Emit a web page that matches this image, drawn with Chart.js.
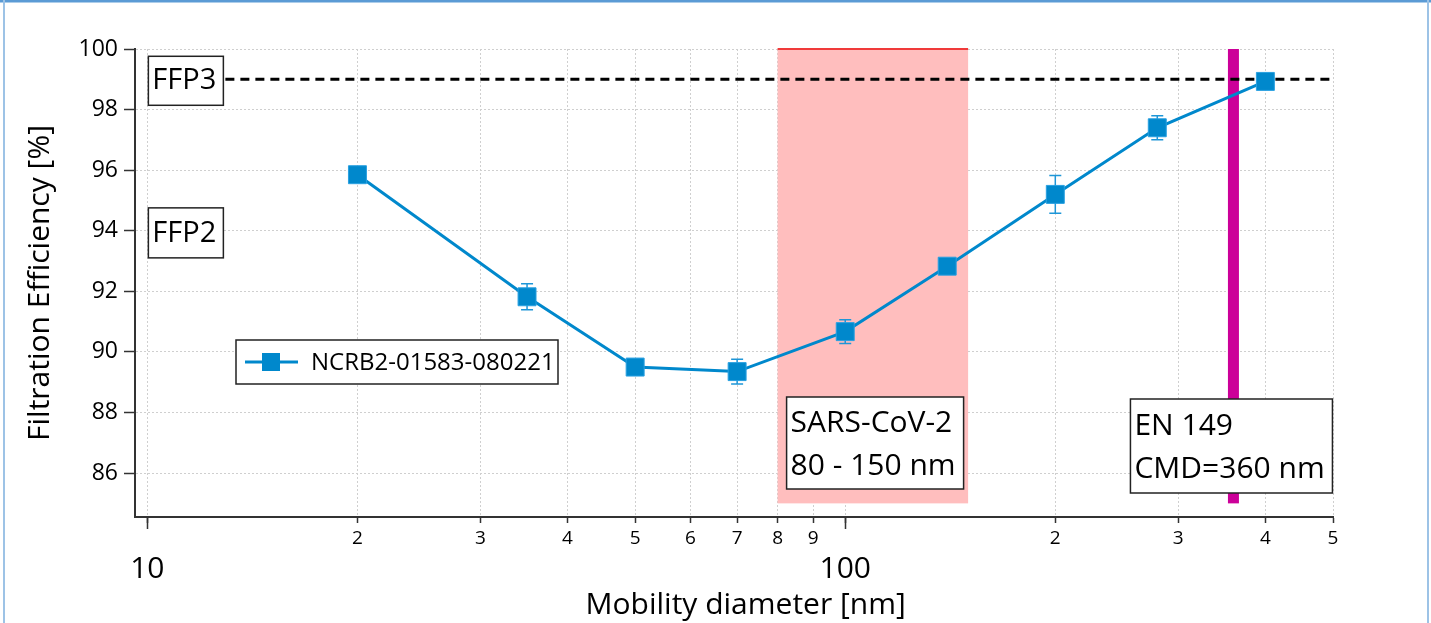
<!DOCTYPE html>
<html>
<head>
<meta charset="utf-8">
<script src="https://cdn.jsdelivr.net/npm/chart.js@4/dist/chart.umd.min.js"></script>
<style>
html, body { margin: 0; padding: 0; background: #fff; }
#wrap { width: 1431px; height: 623px; }
</style>
</head>
<body>
<div id="wrap"><canvas id="filterChart" width="1431" height="623"></canvas></div>
<script>
// measured filtration efficiency vs mobility diameter
const seriesName = "NCRB2-01583-080221";
const diameters = [20, 35, 50, 70, 100, 140, 200, 280, 400];
const efficiency = [95.85, 91.82, 89.5, 89.35, 90.67, 92.83, 95.2, 97.4, 98.93];
const errors = [0.08, 0.43, 0.15, 0.41, 0.39, 0.08, 0.62, 0.4, 0.05];

const xTicks = [10, 20, 30, 40, 50, 60, 70, 80, 90, 100, 200, 300, 400, 500];
const yTicks = [86, 88, 90, 92, 94, 96, 98, 100];

const sarsRange = [80, 150];
const cmdValue = 360;
const ffp3Level = 99;

const FONT = "'Open Sans', 'Noto Sans', sans-serif";
const blue = "rgb(0,136,204)";

const isMajor = (v) => v === 10 || v === 100;

function drawBox(ctx, left, top, w, h, lines, size, firstY, gap) {
    ctx.fillStyle = "#fff";
    ctx.fillRect(left, top, w, h);
    ctx.strokeStyle = "#222";
    ctx.lineWidth = 1.5;
    ctx.strokeRect(left, top, w, h);
    ctx.fillStyle = "#000";
    ctx.font = `${size}px ${FONT}`;
    ctx.textAlign = "left";
    ctx.textBaseline = "middle";
    lines.forEach((t, i) => ctx.fillText(t, left + 4, firstY + i * gap));
}

const overlay = {
    id: "overlay",
    beforeDatasetsDraw(chart) {
        const { ctx, scales: { x, y } } = chart;
        const yTop = y.getPixelForValue(100);
        const yBot = y.getPixelForValue(85);
        ctx.save();

        // SARS-CoV-2 band
        const x1 = x.getPixelForValue(sarsRange[0]);
        const x2 = x.getPixelForValue(sarsRange[1]);
        ctx.fillStyle = "#ffbebe";
        ctx.fillRect(x1, yTop, x2 - x1, yBot - yTop);
        ctx.strokeStyle = "#f03a3a";
        ctx.lineWidth = 2;
        ctx.beginPath();
        ctx.moveTo(x1, yTop);
        ctx.lineTo(x2, yTop);
        ctx.stroke();

        // EN 149 CMD line
        const xc = x.getPixelForValue(cmdValue);
        ctx.fillStyle = "#cc0099";
        ctx.fillRect(xc - 5.5, yTop, 11, yBot - yTop);

        // FFP3 level
        const yf = y.getPixelForValue(ffp3Level);
        ctx.strokeStyle = "#000";
        ctx.lineWidth = 3;
        ctx.setLineDash([9, 6]);
        ctx.beginPath();
        ctx.moveTo(x.getPixelForValue(10) + 78, yf);
        ctx.lineTo(chart.chartArea.right, yf);
        ctx.stroke();
        ctx.setLineDash([]);

        // error bars
        ctx.strokeStyle = "rgb(30,150,215)";
        ctx.lineWidth = 1.5;
        diameters.forEach((d, i) => {
            const px = x.getPixelForValue(d);
            const hi = y.getPixelForValue(efficiency[i] + errors[i]);
            const lo = y.getPixelForValue(efficiency[i] - errors[i]);
            ctx.beginPath();
            ctx.moveTo(px, hi); ctx.lineTo(px, lo);
            ctx.moveTo(px - 6, hi); ctx.lineTo(px + 6, hi);
            ctx.moveTo(px - 6, lo); ctx.lineTo(px + 6, lo);
            ctx.stroke();
        });
        ctx.restore();
    },
    afterDatasetsDraw(chart) {
        const { ctx, scales: { x, y } } = chart;
        ctx.save();
        const x10 = x.getPixelForValue(10);

        drawBox(ctx, x10 + 1, y.getPixelForValue(99) - 23, 75, 49, ["FFP3"], 29, y.getPixelForValue(99) + 1, 0);
        drawBox(ctx, x10 + 1, y.getPixelForValue(93.93) - 25, 75, 50, ["FFP2"], 29, y.getPixelForValue(93.93) + 1, 0);

        drawBox(ctx, x.getPixelForValue(sarsRange[0]) + 9, 397, 177, 92,
            ["SARS-CoV-2", "80 - 150 nm"], 30, 423, 43);
        drawBox(ctx, x.getPixelForValue(cmdValue) - 103, 399, 202, 94,
            ["EN 149", "CMD=360 nm"], 30, 426, 43);

        // legend
        const lx = 236, ly = 340;
        ctx.fillStyle = "#fff";
        ctx.fillRect(lx, ly, 322, 44);
        ctx.strokeStyle = "#222";
        ctx.lineWidth = 1.5;
        ctx.strokeRect(lx, ly, 322, 44);
        ctx.strokeStyle = blue;
        ctx.lineWidth = 3;
        ctx.beginPath();
        ctx.moveTo(lx + 9, ly + 22);
        ctx.lineTo(lx + 62, ly + 22);
        ctx.stroke();
        ctx.fillStyle = blue;
        ctx.fillRect(lx + 26, ly + 13, 18, 18);
        ctx.fillStyle = "#000";
        ctx.font = `24px ${FONT}`;
        ctx.textAlign = "left";
        ctx.textBaseline = "middle";
        ctx.fillText(seriesName, lx + 75, ly + 23);

        ctx.restore();
    },
    afterDraw(chart) {
        const { ctx, scales: { x } } = chart;
        ctx.save();
        // longer tick marks at the decades
        ctx.strokeStyle = "#333";
        ctx.lineWidth = 1.5;
        ctx.beginPath();
        xTicks.filter(isMajor).forEach((v) => {
            const px = Math.round(x.getPixelForValue(v)) + 0.5;
            ctx.moveTo(px, chart.chartArea.bottom);
            ctx.lineTo(px, chart.chartArea.bottom + 12);
        });
        ctx.stroke();

        ctx.strokeStyle = "#5b9bd5";
        ctx.lineWidth = 3;
        ctx.beginPath(); ctx.moveTo(0, 1); ctx.lineTo(1431, 1); ctx.stroke();
        ctx.strokeStyle = "#9dc3e6";
        ctx.lineWidth = 2;
        ctx.beginPath();
        ctx.moveTo(4, 0); ctx.lineTo(4, 623);
        ctx.moveTo(1428, 0); ctx.lineTo(1428, 623);
        ctx.stroke();
        ctx.restore();
    },
};

const ctx = document.getElementById("filterChart").getContext("2d");
const filterChart = new Chart(ctx, {
    type: "line",
    data: {
        datasets: [
            {
                label: seriesName,
                data: diameters.map((d, i) => ({ x: d, y: efficiency[i] })),
                borderColor: blue,
                backgroundColor: blue,
                borderWidth: 3,
                pointStyle: "rect",
                pointRadius: 12.7,
                pointBorderWidth: 1,
                pointBorderColor: "rgb(40,160,225)",
                pointBackgroundColor: blue,
                tension: 0,
            },
        ],
    },
    options: {
        responsive: false,
        animation: false,
        events: [],
        layout: { padding: { left: 0, right: 98, top: 49, bottom: 0 } },
        plugins: {
            legend: { display: false },
            tooltip: { enabled: false },
        },
        scales: {
            x: {
                type: "logarithmic",
                min: 9.6,
                max: 500,
                afterBuildTicks: (axis) => {
                    axis.ticks = xTicks.map((v) => ({ value: v, major: isMajor(v) }));
                },
                afterFit: (axis) => {
                    axis.height = 106;
                },
                ticks: {
                    autoSkip: false,
                    maxRotation: 0,
                    padding: 5,
                    color: "#000",
                    font: (c) =>
                        c.tick && isMajor(c.tick.value)
                            ? { family: FONT, size: 30, lineHeight: 0.92 }
                            : { family: FONT, size: 19, lineHeight: 1.1 },
                    callback: (v) => {
                        if (isMajor(v)) return ["", String(v)];
                        return String(v).charAt(0);
                    },
                },
                grid: {
                    color: "#cfcfcf",
                    lineWidth: 1,
                    tickLength: 6,
                    tickColor: "#333",
                    tickWidth: 1.5,
                    tickBorderDash: [],
                },
                border: { color: "#333", width: 2, dash: [2, 2] },
                title: {
                    display: true,
                    text: "\u00a0\u00a0\u00a0Mobility diameter [nm]",
                    color: "#000",
                    font: { family: FONT, size: 30 },
                    padding: { top: 0, bottom: 0 },
                },
            },
            y: {
                min: 84.55,
                max: 100,
                afterBuildTicks: (axis) => {
                    axis.ticks = yTicks.map((v) => ({ value: v }));
                },
                afterFit: (axis) => {
                    axis.width = 135;
                },
                ticks: {
                    padding: 6,
                    color: "#000",
                    font: { family: FONT, size: 23 },
                },
                grid: {
                    color: "#cfcfcf",
                    lineWidth: 1,
                    tickLength: 11,
                    tickColor: "#333",
                    tickWidth: 1.5,
                    tickBorderDash: [],
                },
                border: { color: "#333", width: 2, dash: [2, 2] },
                title: {
                    display: true,
                    text: "Filtration Efficiency [%]",
                    color: "#000",
                    font: { family: FONT, size: 30 },
                    padding: { top: 22, bottom: 0 },
                },
            },
        },
    },
    plugins: [overlay],
});
</script>
</body>
</html>
